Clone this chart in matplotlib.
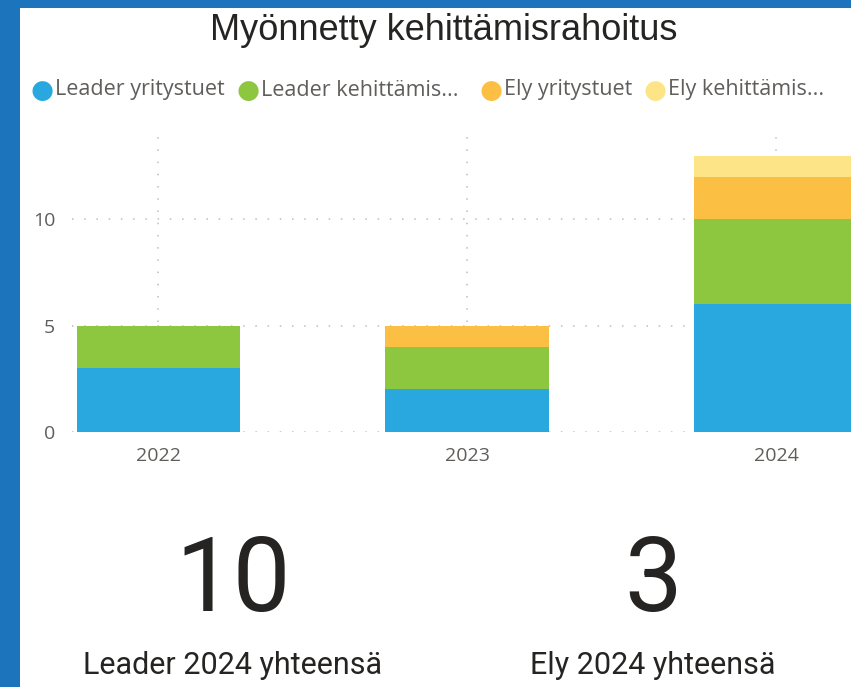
import matplotlib
matplotlib.use("Agg")
import matplotlib.pyplot as plt
from matplotlib.patches import Rectangle
import numpy as np

years = ["2022", "2023", "2024"]
series_names = ["Leader yritystuet", "Leader kehittämis...", "Ely yritystuet", "Ely kehittämis..."]
leader_yritystuet = [3, 2, 6]
leader_kehittamis = [2, 2, 4]
ely_yritystuet = [0, 1, 2]
ely_kehittamis = [0, 0, 1]
colors = ["#29a8e0", "#8dc63f", "#fbbf44", "#fde587"]
yticks = [0, 5, 10]
title = "Myönnetty kehittämisrahoitus"
card_values = ["10", "3"]
card_labels = ["Leader 2024 yhteensä", "Ely 2024 yhteensä"]

W, H = 851, 687
fig = plt.figure(figsize=(W / 100, H / 100), dpi=100)
fig.patch.set_facecolor("#1c74bc")
bg = Rectangle((20 / W, 0), 1, (H - 8) / H, transform=fig.transFigure,
               facecolor="white", edgecolor="none", zorder=-10)
fig.patches.append(bg)

ax = fig.add_axes([72 / W, (H - 432) / H, 1 - 72 / W, (432 - 130) / H], zorder=1)
ax.set_facecolor("none")
x = np.arange(len(years))
bottom = np.zeros(len(years))
for vals, c in zip([leader_yritystuet, leader_kehittamis, ely_yritystuet, ely_kehittamis], colors):
    ax.bar(x, vals, width=0.53, bottom=bottom, color=c, zorder=3, linewidth=0)
    bottom += np.array(vals)

ax.set_xlim(-0.28, 2.243)
ax.set_ylim(0, 14.2)
ax.set_yticks(yticks)
ax.set_xticks(x)
ax.set_xticklabels(years)
for s in ax.spines.values():
    s.set_visible(False)
ax.tick_params(length=0, labelsize=14, labelcolor="#605e5c", labelfontfamily="Open Sans")
ax.tick_params(axis="y", pad=12)
ax.tick_params(axis="x", pad=11)
ax.grid(True, color="#bdbdbd", linestyle=(0, (1, 7)), linewidth=1.1, zorder=0)

fig.text(444 / W, 1 - 30 / H, title, ha="center", va="center", fontsize=26,
         color="#252423", family="Liberation Sans")

leg_x = [42, 248, 491, 655]
for xx, name, c in zip(leg_x, series_names, colors):
    fig.text(xx / W, 1 - 91 / H, "\u25CF", ha="center", va="center", fontsize=19,
             color=c, family="DejaVu Sans")
    fig.text((xx + 13) / W, 1 - 90 / H, name, ha="left", va="center", fontsize=15.5,
             color="#605e5c", family="Open Sans")

card_x = [233, 653]
for cx, v, lab in zip(card_x, card_values, card_labels):
    fig.text(cx / W, 1 - 583 / H, v, ha="center", va="center", fontsize=74,
             color="#252423", family="Roboto")
    fig.text(cx / W, 1 - 665 / H, lab, ha="center", va="center", fontsize=22,
             color="#252423", family="Roboto")

fig.savefig("out.png", dpi=100, facecolor=fig.get_facecolor())
